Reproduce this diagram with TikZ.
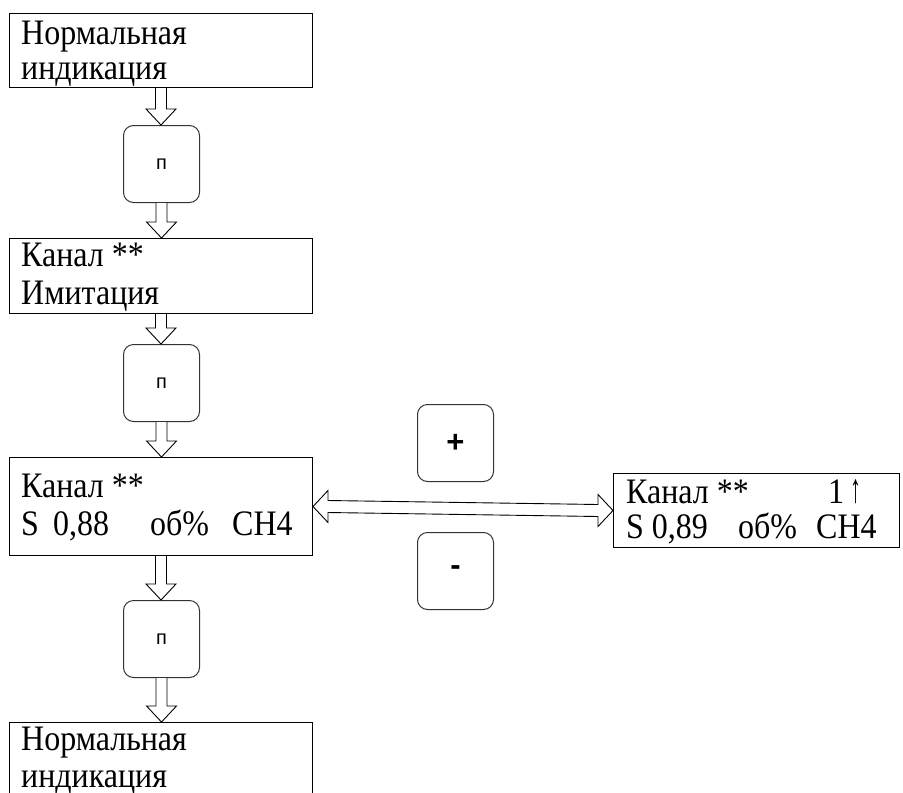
\documentclass[tikz,border=0pt]{standalone}
\usepackage{fontspec}
\usepackage{graphicx}
\setmainfont{Liberation Serif}
\newfontfamily\keyfont{Liberation Sans}
\usetikzlibrary{calc}
\newcommand\tallt[1]{\scalebox{1}[1.12]{#1}}
\tikzset{
  lbox/.style={draw=black, line width=1pt, inner sep=0pt, anchor=north west, minimum width=303, fill=none},
  keybox/.style={draw=black!80, line width=1pt, rounded corners=10pt, inner sep=0pt, minimum width=76, minimum height=77, anchor=north west},
  txt/.style={inner sep=0pt, anchor=base west, font=\fontsize{32}{38}\selectfont},
  keytxt/.style={inner sep=0pt, font=\keyfont\fontsize{20}{22}\selectfont},
  bigkey/.style={inner sep=0pt, font=\keyfont\bfseries\fontsize{31}{36}\selectfont},
  blk/.style={draw=black, line width=0.9pt, fill=white, line join=miter},
}
\newcommand\vblockarrow[2]{%
  \draw[blk] let \p1=(#1.south), \p2=(#2.north) in
    ({\x1-5.5pt},\y1) -- ({\x1-5.5pt},{\y2+16pt}) -- ({\x1-15pt},{\y2+16pt}) -- (\x1,\y2)
    -- ({\x1+15pt},{\y2+16pt}) -- ({\x1+5.5pt},{\y2+16pt}) -- ({\x1+5.5pt},\y1);}
\begin{document}
\begin{tikzpicture}[x=1pt, y=-1pt]
\useasboundingbox (0,0) rectangle (903,793);
% boxes
\node[lbox, minimum height=74] (b1) at (9,13) {};
\node[lbox, minimum height=75] (b2) at (9,238) {};
\node[lbox, minimum height=98] (b3) at (9,457) {};
\node[lbox, minimum height=90] (b4) at (9,722) {};
\node[lbox, minimum width=286, minimum height=74] (rb) at (613,473) {};
% keys
\node[keybox] (k1) at (123,125) {};
\node[keybox] (k2) at (123,344) {};
\node[keybox] (k3) at (123,600) {};
\node[keybox] (kp) at (417,404) {};
\node[keybox] (km) at (417,532) {};
\node[keytxt] (k1t) at (k1.center) {п};
\node[keytxt] (k2t) at (k2.center) {п};
\node[keytxt] (k3t) at (k3.center) {п};
\node[bigkey] (kpt) at (kp.center) {+};
\node[bigkey] (kmt) at (km.center) {-};
% texts
\node[txt] (b1a) at (21,44) {\tallt{Нормальная}};
\node[txt] (b1b) at (21,79) {\tallt{индикация}};
\node[txt] (b2a) at (21,266) {\tallt{Канал **}};
\node[txt] (b2b) at (21,304) {\tallt{Имитация}};
\node[txt] (b3a) at (21,497) {\tallt{Канал **}};
\node[txt] (b3b) at (21,535) {\tallt{S}};
\node[txt] (b3c) at (53,535) {\tallt{0,88}};
\node[txt] (b3d) at (150,535) {\tallt{об\%}};
\node[txt] (b3e) at (232,535) {\tallt{CH4}};
\node[txt] (b4a) at (21,750) {\tallt{Нормальная}};
\node[txt] (b4b) at (21,787) {\tallt{индикация}};
\node[txt] (ra) at (626,503) {\tallt{Канал **}};
\node[txt] (rb1) at (828,503) {\tallt{1}\hspace{6pt}\raisebox{1pt}{\resizebox{11pt}{23pt}{↑}}};
\node[txt] (rc) at (626,538) {\tallt{S 0,89}};
\node[txt] (rd) at (738,538) {\tallt{об\%}};
\node[txt] (re) at (816,538) {\tallt{CH4}};
% vertical arrows
\vblockarrow{b1}{k1}
\vblockarrow{k1}{b2}
\vblockarrow{b2}{k2}
\vblockarrow{k2}{b3}
\vblockarrow{b3}{k3}
\vblockarrow{k3}{b4}
% horizontal double arrow
\draw[blk] let \p1=(b3.east), \p2=(rb.west) in
  (\x1,\y1) -- ({\x1+15pt},{\y1+16pt}) -- ({\x1+15pt},{\y1+6pt})
  -- ({\x2-15pt},{\y2+6pt}) -- ({\x2-15pt},{\y2+16pt}) -- (\x2,\y2)
  -- ({\x2-15pt},{\y2-16pt}) -- ({\x2-15pt},{\y2-6pt})
  -- ({\x1+15pt},{\y1-6pt}) -- ({\x1+15pt},{\y1-16pt}) -- cycle;
\end{tikzpicture}
\end{document}
